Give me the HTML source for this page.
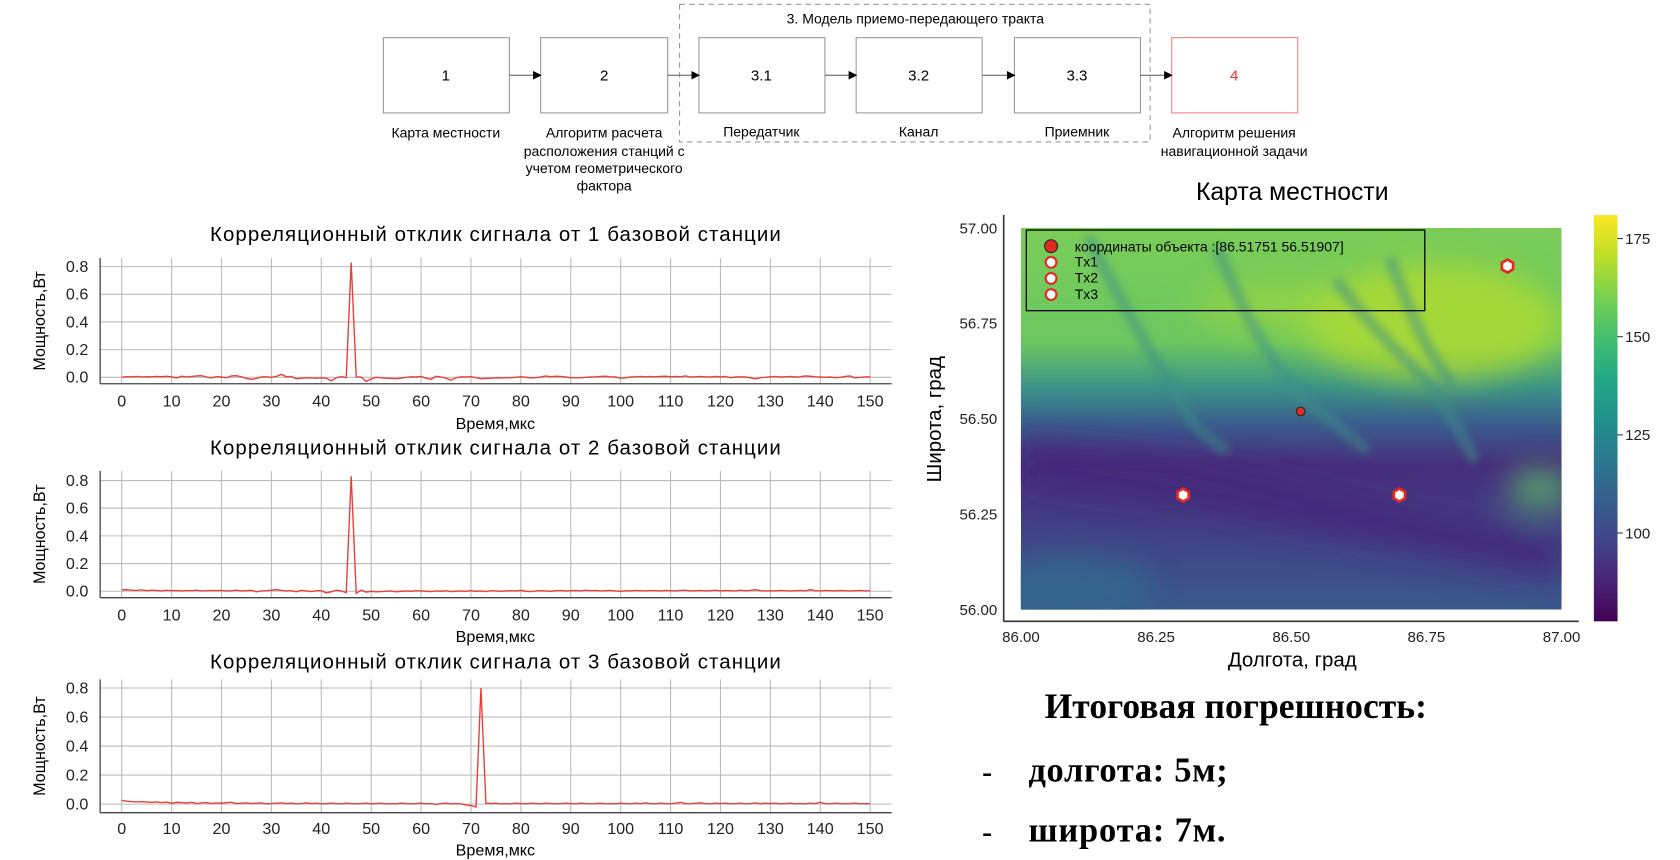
<!DOCTYPE html>
<html><head><meta charset="utf-8">
<style>
html,body{margin:0;padding:0;background:#fff;}
svg{display:block;}
.t{font-family:"Liberation Sans","DejaVu Sans",sans-serif;}
</style></head>
<body>
<svg id="root" width="1680" height="860" viewBox="0 0 1560 800" preserveAspectRatio="none" xmlns="http://www.w3.org/2000/svg">
<defs>
  <linearGradient id="cbar" x1="0" y1="1" x2="0" y2="0">
    <stop offset="0" stop-color="#440154"/><stop offset="0.1" stop-color="#482475"/>
    <stop offset="0.2" stop-color="#414487"/><stop offset="0.3" stop-color="#355f8d"/>
    <stop offset="0.4" stop-color="#2a788e"/><stop offset="0.5" stop-color="#21918c"/>
    <stop offset="0.6" stop-color="#22a884"/><stop offset="0.7" stop-color="#44bf70"/>
    <stop offset="0.8" stop-color="#7ad151"/><stop offset="0.9" stop-color="#bddf26"/>
    <stop offset="1" stop-color="#fde725"/>
  </linearGradient>
  <linearGradient id="terr" x1="0" y1="0" x2="0" y2="1">
    <stop offset="0" stop-color="#7acd58"/><stop offset="0.3" stop-color="#6cc760"/>
    <stop offset="0.42" stop-color="#3a9288"/><stop offset="0.52" stop-color="#3b5a8c"/>
    <stop offset="0.62" stop-color="#472f7c"/><stop offset="0.75" stop-color="#433c84"/>
    <stop offset="1" stop-color="#3a5a8c"/>
  </linearGradient>
  <filter id="blur" x="-20%" y="-20%" width="140%" height="140%"><feGaussianBlur stdDeviation="14"/></filter>
  <filter id="blur2"><feGaussianBlur stdDeviation="4"/></filter>
  <clipPath id="mapclip"><rect x="948" y="212" width="502" height="355"/></clipPath>
  <marker id="arr" markerWidth="8" markerHeight="8" refX="7" refY="4" orient="auto"><path d="M0,0 L8,4 L0,8 z" fill="#000"/></marker>
</defs>

<!-- Flow diagram -->
<g class="t" font-size="13" text-anchor="middle">
  <rect x="631" y="4" width="437" height="128" fill="none" stroke="#999" stroke-dasharray="5,4"/>
  <text x="850" y="22">3. Модель приемо-передающего тракта</text>
  <g stroke="#999" fill="#fff">
    <rect x="356" y="35" width="117" height="70"/>
    <rect x="502" y="35" width="118" height="70"/>
    <rect x="649" y="35" width="117" height="70"/>
    <rect x="795" y="35" width="117" height="70"/>
    <rect x="942" y="35" width="117" height="70"/>
    <rect x="1088" y="35" width="117" height="70" stroke="#f08080"/>
  </g>
  <g stroke="#555" stroke-width="1" marker-end="url(#arr)">
    <line x1="473" y1="70" x2="502" y2="70"/><line x1="620" y1="70" x2="649" y2="70"/>
    <line x1="766" y1="70" x2="795" y2="70"/><line x1="912" y1="70" x2="942" y2="70"/>
    <line x1="1059" y1="70" x2="1088" y2="70"/>
  </g>
  <text x="414" y="75" font-size="14">1</text>
  <text x="561" y="75" font-size="14">2</text>
  <text x="707" y="75" font-size="14">3.1</text>
  <text x="853" y="75" font-size="14">3.2</text>
  <text x="1000" y="75" font-size="14">3.3</text>
  <text x="1146" y="75" font-size="14" fill="#e8302a">4</text>
  <text x="414" y="128">Карта местности</text>
  <text x="561" y="128">Алгоритм расчета</text>
  <text x="561" y="145">расположения станций с</text>
  <text x="561" y="161">учетом геометрического</text>
  <text x="561" y="177">фактора</text>
  <text x="707" y="127">Передатчик</text>
  <text x="853" y="127">Канал</text>
  <text x="1000" y="127">Приемник</text>
  <text x="1146" y="128">Алгоритм решения</text>
  <text x="1146" y="145">навигационной задачи</text>
</g>

<g id="corr"></g>

<!-- Map -->
<g class="t">
  <text x="1200" y="186" font-size="23" text-anchor="middle">Карта местности</text>
  <g clip-path="url(#mapclip)">
    <rect x="948" y="212" width="502" height="355" fill="url(#terr)"/>
    <g filter="url(#blur)">
      <ellipse cx="1330" cy="300" rx="120" ry="55" fill="#b5dd2e" opacity="0.75"/>
      <ellipse cx="1190" cy="285" rx="80" ry="25" fill="#a0d83c" opacity="0.6"/>
      <ellipse cx="1430" cy="455" rx="30" ry="20" fill="#5cc563" opacity="0.7"/>
      <polygon points="948,410 1100,425 1300,470 1450,500 1450,540 1300,510 1100,470 948,450" fill="#45277a" opacity="0.8"/>
      <ellipse cx="990" cy="545" rx="80" ry="30" fill="#2f6f8e" opacity="0.6"/>
    </g>
    <g fill="none" stroke="#3f8e8a" stroke-width="10" opacity="0.55" filter="url(#blur2)">
      <path d="M1010,220 C1040,280 1070,330 1100,380 C1110,400 1125,410 1140,420"/>
      <path d="M1130,230 C1150,280 1170,320 1200,360 C1230,390 1250,400 1270,420"/>
      <path d="M1240,260 C1270,300 1300,330 1330,360 C1350,390 1360,410 1370,430"/>
      <path d="M1290,240 C1310,290 1320,320 1350,360"/>
    </g>
  </g>
  <rect x="953" y="214" width="370" height="75" fill="none" stroke="#000" stroke-width="1.2"/>
  <g font-size="13">
    <circle cx="976" cy="229" r="6" fill="#e02b20" stroke="#222"/>
    <text x="998" y="234">координаты объекта :[86.51751  56.51907]</text>
    <circle cx="976" cy="244" r="5" fill="#fff" stroke="#e02b20" stroke-width="2"/><text x="998" y="248">Tx1</text>
    <circle cx="976" cy="259" r="5" fill="#fff" stroke="#e02b20" stroke-width="2"/><text x="998" y="263">Tx2</text>
    <circle cx="976" cy="274" r="5" fill="#fff" stroke="#e02b20" stroke-width="2"/><text x="998" y="278">Tx3</text>
  </g>
  <g id="mapmarks"></g>
  <line x1="932" y1="200" x2="932" y2="578" stroke="#333" stroke-width="1.5"/>
  <line x1="932" y1="578" x2="1466" y2="578" stroke="#333" stroke-width="1.5"/>
  <g id="mapaxes" font-size="14"></g>
  <text x="1200" y="620" font-size="19" text-anchor="middle">Долгота, град</text>
  <text x="874" y="390" font-size="19" text-anchor="middle" transform="rotate(-90 874 390)">Широта, град</text>
  <rect x="1480" y="200" width="22" height="378" fill="url(#cbar)"/>
  <g id="cbticks" font-size="14"></g>
</g>

<!-- Result text -->
<g font-family="'Liberation Serif',serif" font-weight="bold">
  <text x="970" y="668" font-size="33" textLength="355">Итоговая погрешность:</text>
  <text x="912" y="727" font-size="28">-</text>
  <text x="955" y="727" font-size="32" textLength="185">долгота: 5м;</text>
  <text x="912" y="783" font-size="28">-</text>
  <text x="955" y="783" font-size="32" textLength="183">широта: 7м.</text>
</g>
</svg>

<script>
const NS="http://www.w3.org/2000/svg";
const timeStart=0, timeStep=1;
const xTicks=[0,10,20,30,40,50,60,70,80,90,100,110,120,130,140,150];
const yTicks=[0.0,0.2,0.4,0.6,0.8];
const yTickLabels=["0.0","0.2","0.4","0.6","0.8"];
const chartTitles=["Корреляционный отклик сигнала от 1 базовой станции","Корреляционный отклик сигнала от 2 базовой станции","Корреляционный отклик сигнала от 3 базовой станции"];
const station1=[0,0.005,0.004,0.006,0.003,0.005,0.004,0.006,0.005,0.007,0.004,-0.005,0.008,0.003,0.006,0.01,0.012,0.002,-0.004,0.005,
0.002,-0.003,0.01,0.012,0.004,-0.008,-0.015,-0.008,0.002,0.004,0,0.006,0.022,0.004,0.006,-0.01,-0.006,-0.004,-0.005,-0.006,
-0.004,-0.006,-0.025,-0.004,0.006,-0.002,0.83,0.004,0.002,-0.03,
-0.012,0,-0.004,-0.006,-0.008,-0.01,-0.006,0,0.004,0.002,
0.006,-0.006,-0.015,0.008,0.002,-0.006,-0.02,-0.004,0.004,0.002,
0.005,-0.002,-0.01,-0.008,-0.006,-0.004,-0.005,-0.004,-0.002,0,
0.005,0,-0.004,-0.002,0.003,0.01,0.004,0.008,0.006,0.002,
-0.002,-0.004,-0.002,0,0.002,0.004,0.006,0.008,0.004,0.002,
-0.006,-0.004,0.002,0.004,0.006,0.004,0.006,0.004,0.006,0.008,
0.004,0.006,0.004,0.01,0.002,0.004,0.006,0.004,0.002,0.006,
0.004,0.006,-0.002,0.002,0.004,0.002,-0.004,-0.012,-0.002,0,
0.004,0.006,0.002,0.004,0.006,0.002,0.004,0.01,0.008,0.004,
0.002,0,0.002,-0.002,0,0.006,0.01,-0.004,0,0.002,0.004];
const station2=[0.01,0.012,0.008,0.006,0.01,0.004,0.008,0.006,0.002,0.008,0.004,0.006,0.002,0.006,0.004,0.008,0.002,0.004,0.006,0.004,
0.006,0.002,0.004,0.008,0.002,0.004,0.006,-0.004,0.002,0.004,0.008,0.012,0.006,0.002,0.004,-0.004,0.006,0.002,-0.002,0.004,
0.004,-0.012,-0.004,0.006,0.002,-0.01,0.83,-0.015,0.008,-0.006,
0,-0.004,-0.002,0,0.002,-0.004,0,0.002,0,0.004,
0.002,0,-0.002,0.002,0,0.004,-0.002,0,0.002,0,
0.004,0,0.002,-0.002,0.004,0.002,0,0.002,0.004,0.002,
0.006,0,-0.002,0.002,0.004,0.002,0,0.004,0.006,0.002,
0.004,0.006,0.002,0.008,0.004,0.006,0.002,0.004,0.006,0.002,
0,0.004,0.002,0.006,0.004,0.002,0.006,0.004,0.002,0.006,
0.004,0.002,0.006,0.008,0.002,0.004,0.006,0.002,0.004,0.008,
0.002,0.006,0.004,0.002,0.008,0.004,0.006,0.012,0.004,0.002,
0.004,0.002,0.006,0.004,0.002,0.004,0.006,0.002,0.012,0.004,
0.002,0.006,0.004,0.002,0.006,0.004,0.002,0.004,0.006,0.002,0.004];
const station3=[0.025,0.02,0.018,0.015,0.016,0.014,0.012,0.015,0.01,0.014,0.006,0.012,0.01,0.008,0.012,0.004,0.008,0.01,0.004,0.008,
0.006,0.01,0.012,0.004,0.006,0.008,0.004,0.006,0.008,0.002,0.004,0.006,0.008,0.004,0.006,0.002,0.004,0.008,0.004,0.006,
0.002,0.004,0.006,0.004,0.002,0.006,0.004,0.002,0.004,0.006,
0.002,0.004,0.006,0.002,0.004,0.002,0.006,0.004,0.002,0.004,
0.006,0.002,0.004,-0.002,0.004,0.006,0.002,0.004,0.002,-0.006,
-0.01,-0.02,0.8,0.006,0.004,0.006,0.002,0.004,0.002,0.006,
0.004,0.002,0.006,0.004,0.002,0.006,0.004,0.002,0.004,0.006,
0.004,0.002,0.006,0.004,0.002,0.004,0.006,0.002,0.004,0.002,
0.006,0.004,0.002,0.006,0.004,0.008,0.004,0.002,0.006,0.004,
0.002,0.006,0.012,0.004,0.002,0.006,0.008,0.004,0.002,0.006,
0.004,0.006,0.002,0.004,0.006,0.002,0.004,0.008,0.002,0.006,
0.004,0.006,0.002,0.004,0.006,0.002,0.004,0.002,0.006,0.004,
0.012,0.004,0.002,0.006,0.004,0.002,0.004,0.006,0.002,0.004,0.002];
const seriesList=[station1,station2,station3];
const frames=[{top:240,bottom:357,y0:351,y8:248,titleY:224,tickY:378,labelY:399},
{top:438,bottom:556,y0:550,y8:447,titleY:423,tickY:577,labelY:597},
{top:632,bottom:756,y0:748,y8:640,titleY:622,tickY:776,labelY:796}];
const plotL=93, plotR=828, x0px=113, x150px=808;
const corr=document.getElementById('corr');
function mk(tag,attrs,parent){const e=document.createElementNS(NS,tag);for(const k in attrs)e.setAttribute(k,attrs[k]);parent.appendChild(e);return e;}
function xs(t){return x0px+(t-0)/(150-0)*(x150px-x0px);}
frames.forEach((f,i)=>{
  const ys=v=>f.y0+(v-0)/(0.8-0)*(f.y8-f.y0);
  const g=mk('g',{class:'t'},corr);
  
  
  const title=mk('text',{x:460,y:f.titleY,'font-size':19,'text-anchor':'middle',textLength:530},g);
  title.textContent=chartTitles[i];
  
  
  xTicks.forEach(t=>{
    const l=mk('line',{x1:xs(t),x2:xs(t),y1:f.top,y2:f.bottom,stroke:'#bbb','stroke-width':1},g);
    
    
    const tx=mk('text',{x:xs(t),y:f.tickY,'font-size':15,'text-anchor':'middle',fill:'#222'},g);
    tx.textContent=String(t);
    
    
  });
  yTicks.forEach((v,k)=>{
    const l=mk('line',{x1:plotL,x2:plotR,y1:ys(v),y2:ys(v),stroke:'#bbb','stroke-width':1},g);
    
    
    const tx=mk('text',{x:82,y:ys(v)+5,'font-size':15,'text-anchor':'end',fill:'#222'},g);
    tx.textContent=yTickLabels[k];
    
    
  });
  mk('line',{x1:plotL,x2:plotL,y1:f.top,y2:f.bottom,stroke:'#444','stroke-width':1.2},g);
  mk('line',{x1:plotL,x2:plotR,y1:f.bottom,y2:f.bottom,stroke:'#444','stroke-width':1.2},g);
  const s=seriesList[i];
  const pts=s.map((v,k)=>xs(timeStart+k*timeStep).toFixed(1)+','+ys(v).toFixed(1)).join(' ');
  const pl=mk('polyline',{points:pts,fill:'none',stroke:'#e8413a','stroke-width':1.3},g);
  
  
  const xl=mk('text',{x:460,y:f.labelY,'font-size':15,'text-anchor':'middle'},g);
  xl.textContent='Время,мкс';
  
  
  const cy=(f.top+f.bottom)/2;
  const yl=mk('text',{x:42,y:cy,'font-size':15,'text-anchor':'middle',transform:'rotate(-90 42 '+cy+')'},g);
  yl.textContent='Мощность,Вт';
  
  
});

const lonTicks=[86.00,86.25,86.50,86.75,87.00];
const latTicks=[56.00,56.25,56.50,56.75,57.00];
const cbTicks=[100,125,150,175];
const cbMin=77.5, cbMax=181;
const txLon=[86.9,86.3,86.7];
const txLat=[56.9,56.3,56.3];
const objLon=[86.51751], objLat=[56.51907];
const lonPx=v=>948+(v-86)/(87-86)*(1450-948);
const latPx=v=>567-(v-56)/(57-56)*(567-212);
const cbPx=v=>578-(v-cbMin)/(cbMax-cbMin)*(578-200);
const ax=document.getElementById('mapaxes');
lonTicks.forEach(v=>{
  const t=mk('text',{x:lonPx(v),y:597,'text-anchor':'middle',fill:'#222'},ax);
  t.textContent=v.toFixed(2);
  
  
});
latTicks.forEach(v=>{
  const t=mk('text',{x:926,y:latPx(v)+5,'text-anchor':'end',fill:'#222'},ax);
  t.textContent=v.toFixed(2);
  
  
});
const cb=document.getElementById('cbticks');
cbTicks.forEach(v=>{
  mk('line',{x1:1502,x2:1507,y1:cbPx(v),y2:cbPx(v),stroke:'#333'},cb);
  const t=mk('text',{x:1509,y:cbPx(v)+5,fill:'#222'},cb);
  t.textContent=String(v);
  
  
});
const mm=document.getElementById('mapmarks');
txLon.forEach((lon,i)=>{
  const cx=lonPx(lon), cy=latPx(txLat[i]), r=6;
  const pts=[0,1,2,3,4,5].map(k=>{const a=Math.PI/3*k+Math.PI/6;return (cx+r*Math.cos(a)).toFixed(1)+','+(cy+r*Math.sin(a)).toFixed(1);}).join(' ');
  const c=mk('polygon',{points:pts,fill:'#fff',stroke:'#e02b20','stroke-width':2.5},mm);
  
  
});
objLon.forEach((lon,i)=>{
  const c=mk('circle',{cx:lonPx(lon),cy:latPx(objLat[i]),r:4,fill:'#e02b20',stroke:'#222','stroke-width':1},mm);
  
  
});
</script>
</body></html>
